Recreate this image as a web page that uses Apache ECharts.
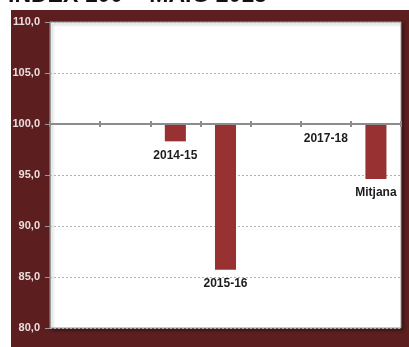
<!DOCTYPE html>
<html>
<head>
<meta charset="utf-8">
<script src="https://cdn.jsdelivr.net/npm/echarts@6/dist/echarts.min.js"></script>
<style>
  html, body { margin: 0; padding: 0; background: #ffffff; }
  #chart { width: 409px; height: 347px; }
</style>
</head>
<body>
<div id="chart"></div>
<script>
// Seasons (only some are named on the chart) and index values (base 100)
const seasons = ['', '', '2014-15', '2015-16', '', '2017-18', 'Mitjana'];
const indexValues = [100, 100, 98.3, 85.7, 100, 99.9, 94.6];
const baseLevel = 100;
const yTicks = { min: 80, max: 110, step: 5 };
const titleText = 'INDEX 100 = MAIG 2013';

const fmt = v => v.toFixed(1).replace('.', ',');

const chart = echarts.init(document.getElementById('chart'), null, { renderer: 'canvas' });

// Bars hang from the base level: an invisible segment up to the value,
// then the visible segment from the value up to the base.
const hidden = indexValues.map(v => Math.min(v, baseLevel));
const visible = indexValues.map(v => Math.abs(baseLevel - v));

const tickStyle = { color: '#8c8c8c', width: 2 };

chart.setOption({
  animation: false,
  backgroundColor: '#ffffff',
  graphic: [
    {
      type: 'rect', left: 11, top: 10, z: -10,
      shape: { width: 398, height: 337 },
      style: { fill: '#5c1e1f' }
    },
    {
      type: 'text', left: 8, top: -16, z: -5,
      style: { text: titleText, fill: '#111', font: 'bold 23px "Liberation Sans", Arial, sans-serif' }
    }
  ],
  grid: [
    {
      left: 50, top: 22, right: 8, bottom: 19,
      show: true, backgroundColor: '#ffffff', borderColor: '#9a9a9a', borderWidth: 1,
      shadowColor: 'rgba(0,0,0,0.35)', shadowBlur: 3, shadowOffsetX: 2, shadowOffsetY: 2
    },
    { left: 50, top: 22, right: 8, bottom: 223 }
  ],
  xAxis: [
    {
      type: 'category', gridIndex: 0, data: seasons,
      axisLine: { show: false }, axisTick: { show: false }, axisLabel: { show: false }
    },
    {
      type: 'category', gridIndex: 1, data: seasons, position: 'bottom',
      axisLine: { show: true, lineStyle: { color: '#8c8c8c', width: 2 } },
      axisTick: { show: true, interval: 0, inside: true, length: 3, lineStyle: tickStyle },
      axisLabel: { show: false, interval: 0 }, z: 5
    },
    {
      type: 'category', gridIndex: 1, data: seasons, position: 'bottom',
      axisLine: { show: false },
      axisTick: { show: true, interval: 0, inside: false, length: 3, lineStyle: tickStyle },
      axisLabel: { show: false, interval: 0 }, z: 5
    }
  ],
  yAxis: [
    {
      type: 'value', gridIndex: 0,
      min: yTicks.min, max: yTicks.max, interval: yTicks.step,
      axisLine: { show: true, lineStyle: { color: '#9a9a9a' } },
      axisTick: { show: true, length: 5, lineStyle: { color: '#9a9a9a' } },
      axisLabel: {
        margin: 10, color: '#eadede', fontSize: 11, fontWeight: 'bold',
        fontFamily: '"Liberation Sans", Arial, sans-serif',
        formatter: fmt
      },
      splitLine: { show: true, lineStyle: { color: '#b0b0b0', type: [2, 2], width: 1 } }
    },
    {
      type: 'value', gridIndex: 1, min: 0, max: 1,
      axisLine: { show: false }, axisTick: { show: false },
      axisLabel: { show: false }, splitLine: { show: false }
    }
  ],
  series: [
    {
      type: 'bar', stack: 'idx', xAxisIndex: 0, yAxisIndex: 0,
      data: hidden, barWidth: '42%', silent: true,
      itemStyle: { color: 'transparent' }
    },
    {
      type: 'bar', stack: 'idx', xAxisIndex: 0, yAxisIndex: 0,
      data: visible, barWidth: '42%',
      itemStyle: { color: '#983232' },
      label: {
        show: true, position: 'bottom', distance: 8,
        color: '#1c1c1c', fontSize: 12, fontWeight: 'bold',
        fontFamily: '"Liberation Sans", Arial, sans-serif',
        formatter: p => seasons[p.dataIndex]
      }
    }
  ]
});
</script>
</body>
</html>
